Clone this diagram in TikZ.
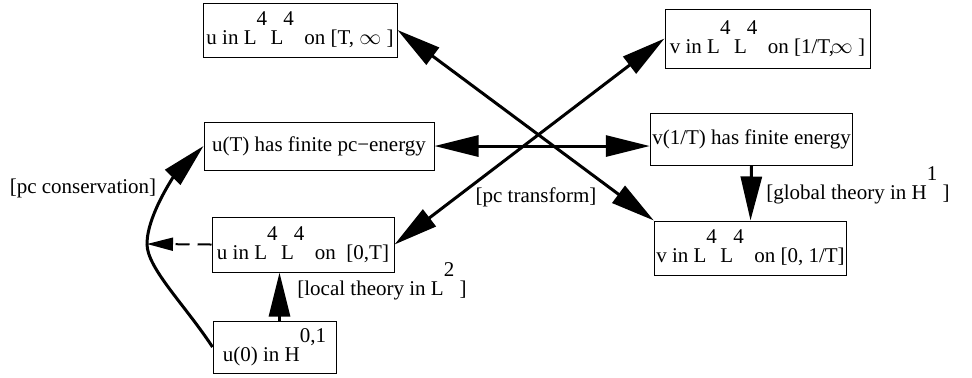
\documentclass[tikz,border=0pt]{standalone}
\usepackage{fontspec}
\setmainfont{Liberation Serif}
\usepackage{tikz}
\usetikzlibrary{arrows.meta}
\newcommand{\rsup}[1]{\raisebox{9.5pt}{#1}}
\tikzset{
  box/.style={rectangle,draw=black,line width=0.5pt,inner sep=1pt,
    align=center,font=\fontsize{10.5}{12}\selectfont},
  lbl/.style={inner sep=0pt,font=\fontsize{10.5}{12}\selectfont},
  fl/.style={-{Triangle[length=22pt,width=10.5pt]},line width=1.5pt},
  bfl/.style={{Triangle[length=22pt,width=10.5pt]}-{Triangle[length=22pt,width=10.5pt]},line width=1.5pt},
  dfl/.style={-{Triangle[length=13pt,width=6.5pt]},line width=1pt,dash pattern=on 7pt off 4pt},
}

\begin{document}
\begin{tikzpicture}[x=0.5pt,y=-0.5pt]
  \useasboundingbox (0,0) rectangle (972,377);
  \node[box,minimum width=97pt,minimum height=27pt] (uinf) at (300,30)
    {u in L\rsup{4}\,L\rsup{4}\ \ on [T, $\infty$ ]};
  \node[box,minimum width=102.5pt,minimum height=29.5pt] (vinf) at (767.5,38.5)
    {v in L\rsup{4}\,L\rsup{4}\ \ on [1/T,\kern-1.5pt$\infty$ ]};
  \node[box,minimum width=115pt,minimum height=24pt] (ufin) at (319,146)
    {u(T) has finite pc−energy};
  \node[box,minimum width=96.5pt,minimum height=26pt] (vfin) at (751.5,139)
    {v(1/T) has finite energy};
  \node[box,minimum width=91pt,minimum height=27.5pt] (uloc) at (303,244.5)
    {u in L\rsup{4}\,L\rsup{4}\ \ on\ \ [0,T]};
  \node[box,minimum width=93.5pt,minimum height=27pt] (vzero) at (750.5,248)
    {v in L\rsup{4}\,L\rsup{4}\ \ on [0, 1/T]};
  \node[box,minimum width=61.5pt,minimum height=26pt] (uzero) at (274.5,347)
    {u(0) in H\rsup{0,1}};
  \coordinate (bend) at (147,244);
  \node[lbl] (pccons) at (83,188) {[pc conservation]};
  \node[lbl] (pctrans) at (536,197) {[pc transform]};
  \node[lbl,anchor=base west] (glob) at (766,199) {[global theory in H\rsup{1}\ ]};
  \node[lbl,anchor=base west] (loc) at (297,295) {[local theory in L\rsup{2}\ ]};
  \draw[bfl] (uinf.east) -- (vzero.north west);
  \draw[bfl] (vinf.west) -- (uloc.east);
  \draw[bfl] (ufin.east) -- (ufin.east -| vfin.west);
  \draw[fl] (vfin.south) -- (vzero.north);
  \draw[fl] ([xshift=2.5pt]uzero.north) -- ([xshift=2.5pt]uzero.north |- uloc.south);
  \draw[fl] (uzero.west) .. controls (185,305) and (147,268) .. (bend)
    .. controls (147,215) and (175,175) .. (ufin.west);
  \draw[dfl] (uloc.west) -- (bend);
\end{tikzpicture}
\end{document}
